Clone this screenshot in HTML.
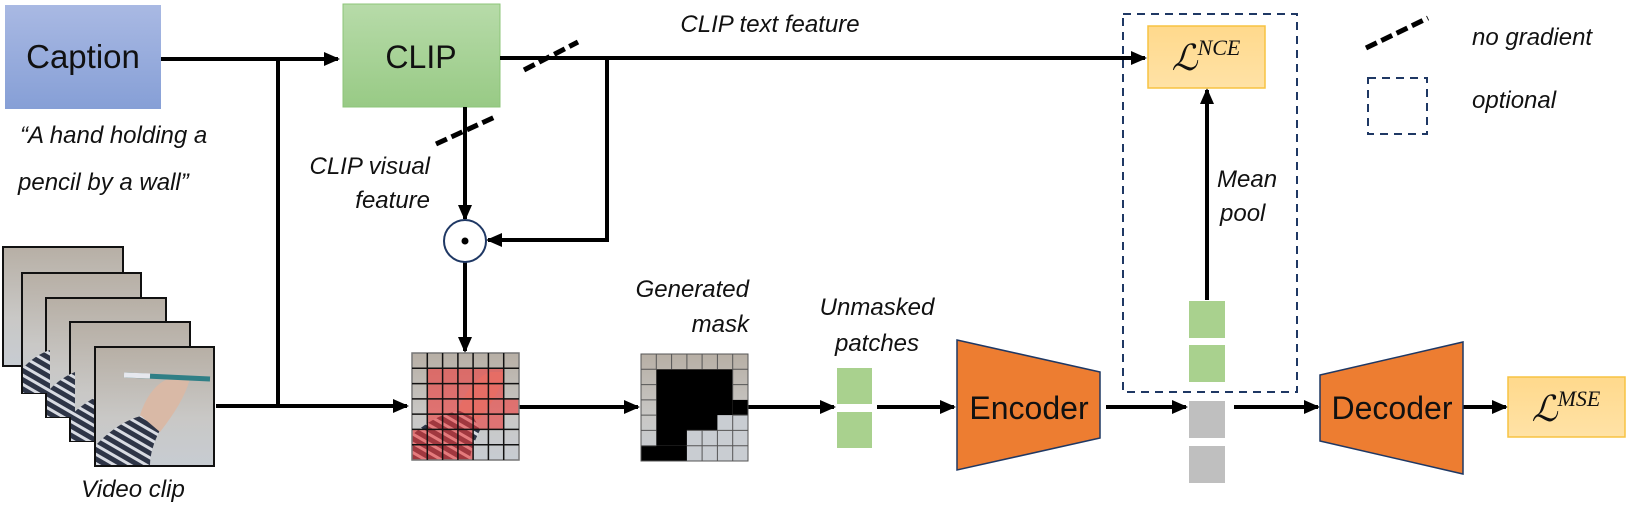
<!DOCTYPE html>
<html><head><meta charset="utf-8"><style>
html,body{margin:0;padding:0;background:#fff;}
svg{display:block;}
text{font-family:"Liberation Sans",sans-serif;}
.it{font-style:italic;fill:#111;}
</style></head><body>
<svg width="1627" height="527" viewBox="0 0 1627 527" xmlns="http://www.w3.org/2000/svg">
<defs>
<linearGradient id="gCap" x1="0" y1="0" x2="0" y2="1"><stop offset="0" stop-color="#a9b9e3"/><stop offset="1" stop-color="#869fd6"/></linearGradient>
<linearGradient id="gClip" x1="0" y1="0" x2="0" y2="1"><stop offset="0" stop-color="#b7dba9"/><stop offset="1" stop-color="#98ca85"/></linearGradient>
<linearGradient id="gLoss" x1="0" y1="0" x2="0" y2="1"><stop offset="0" stop-color="#ffd98c"/><stop offset="1" stop-color="#ffe2a6"/></linearGradient>
<linearGradient id="gFr" x1="0" y1="0" x2="0" y2="1"><stop offset="0" stop-color="#b7afa5"/><stop offset="0.6" stop-color="#c9c8c6"/><stop offset="1" stop-color="#c7ccd2"/></linearGradient>
<marker id="ahb" markerWidth="16" markerHeight="14" refX="14" refY="7" orient="auto" markerUnits="userSpaceOnUse"><path d="M0,0 L16,7 L0,14 z" fill="#000"/></marker>
<pattern id="stripe" width="8" height="8" patternUnits="userSpaceOnUse" patternTransform="rotate(30)"><rect width="8" height="8" fill="#2e3547"/><rect width="8" height="3" fill="#d8dbe2"/></pattern>
</defs>

<!-- Caption -->
<rect x="5" y="5" width="156" height="104" fill="url(#gCap)"/>
<text x="83" y="68" font-size="33" text-anchor="middle" fill="#111">Caption</text>
<text class="it" x="20" y="143" font-size="24">“A hand holding a</text>
<text class="it" x="18" y="190" font-size="24">pencil by a wall”</text>

<!-- CLIP -->
<rect x="343" y="4" width="157" height="103" fill="url(#gClip)" stroke="#8cc478" stroke-width="1"/>
<text x="421" y="68" font-size="32" text-anchor="middle" fill="#111">CLIP</text>

<g stroke="#000" stroke-width="4" fill="none">
<line x1="161" y1="59" x2="338" y2="59" marker-end="url(#ahb)"/>
<polyline points="278,59 278,406"/>
<polyline points="216,406 407,406" marker-end="url(#ahb)"/>
<line x1="500" y1="58" x2="1145" y2="58" marker-end="url(#ahb)"/>
<polyline points="607,58 607,240 488,240" marker-end="url(#ahb)"/>
<line x1="465" y1="107" x2="465" y2="219" marker-end="url(#ahb)"/>
<line x1="465" y1="262" x2="465" y2="351" marker-end="url(#ahb)"/>
<line x1="519" y1="407" x2="638" y2="407" marker-end="url(#ahb)"/>
<line x1="748" y1="407" x2="834" y2="407" marker-end="url(#ahb)"/>
<line x1="877" y1="407" x2="954" y2="407" marker-end="url(#ahb)"/>
<line x1="1106" y1="407" x2="1186" y2="407" marker-end="url(#ahb)"/>
<line x1="1234" y1="407" x2="1318" y2="407" marker-end="url(#ahb)"/>
<line x1="1463" y1="407" x2="1506" y2="407" marker-end="url(#ahb)"/>
<line x1="1207" y1="300" x2="1207" y2="90" marker-end="url(#ahb)"/>
</g>
<!-- no-grad slashes -->
<g stroke="#000" stroke-width="5" stroke-dasharray="12,5" fill="none">
<line x1="436" y1="144" x2="497" y2="116"/>
<line x1="524" y1="70" x2="578" y2="42"/>
<line x1="1366" y1="48" x2="1428" y2="18"/>
</g>
<circle cx="465" cy="241" r="21" fill="#fff" stroke="#1f3864" stroke-width="2"/>
<circle cx="465" cy="241" r="3.5" fill="#000"/>
<text class="it" x="430" y="174" text-anchor="end" font-size="24">CLIP visual</text>
<text class="it" x="430" y="208" text-anchor="end" font-size="24">feature</text>
<text class="it" x="770" y="32" text-anchor="middle" font-size="24">CLIP text feature</text>

<!-- Video frames -->
<g stroke="#111" stroke-width="2">
<rect x="3" y="247" width="120" height="119" fill="url(#gFr)"/>
<rect x="22" y="273" width="119" height="120" fill="url(#gFr)"/>
<rect x="46" y="298" width="120" height="119" fill="url(#gFr)"/>
<rect x="70" y="322" width="120" height="119" fill="url(#gFr)"/>
</g>
<path d="M23 393 L23 368 Q35 355 50 350 L50 393Z" fill="url(#stripe)"/>
<path d="M47 417 L47 392 Q60 378 75 372 L75 417Z" fill="url(#stripe)"/>
<path d="M71 441 L71 415 Q85 402 98 396 L98 441Z" fill="url(#stripe)"/>
<rect x="95" y="347" width="119" height="119" fill="url(#gFr)" stroke="#111" stroke-width="2"/>
<path d="M96 465 L96 445 Q120 420 145 415 L160 430 Q150 450 150 465Z" fill="url(#stripe)"/>
<path d="M140 415 Q150 385 170 378 L190 378 Q185 400 160 432Z" fill="#d9b9a6"/>
<line x1="124" y1="375" x2="210" y2="379" stroke="#2f7f86" stroke-width="5"/>
<line x1="124" y1="375" x2="150" y2="376" stroke="#e6e8ee" stroke-width="5"/>
<text class="it" x="133" y="497" text-anchor="middle" font-size="24">Video clip</text>

<!-- Grid with red overlay -->
<rect x="412" y="353" width="107" height="107" fill="url(#gFr)"/>
<path d="M412 460 L412 435 Q440 410 470 410 L480 430 Q470 450 470 460Z" fill="url(#stripe)"/>
<path d="M458 410 Q470 380 490 372 L505 372 Q500 395 478 420Z" fill="#d9b9a6"/>
<g fill="#ee3b3b" fill-opacity="0.6">
<rect x="427.3" y="368.3" width="76.4" height="45.9"/>
<rect x="503.7" y="398.9" width="15.3" height="15.3"/>
<rect x="427.3" y="414.1" width="76.4" height="15.3"/>
<rect x="412" y="429.4" width="61.1" height="30.6"/>
</g>
<g stroke="#111" stroke-width="1.5" fill="none">
<rect x="412" y="353" width="107" height="107" stroke="#777"/>
<path d="M427.3 353V460M442.6 353V460M457.9 353V460M473.1 353V460M488.4 353V460M503.7 353V460M412 368.3H519M412 383.6H519M412 398.9H519M412 414.1H519M412 429.4H519M412 444.7H519"/>
</g>

<!-- Mask grid -->
<rect x="641" y="354" width="107" height="107" fill="url(#gFr)"/>
<g fill="#000">
<rect x="656.3" y="369.3" width="76.4" height="76.4"/>
<rect x="732.7" y="399.9" width="15.3" height="15.3"/>
<rect x="641" y="445.7" width="61.1" height="15.3"/>
</g>
<rect x="686.9" y="430.4" width="61.1" height="30.6" fill="#c9cdd2"/>
<rect x="717.4" y="415.1" width="30.6" height="15.3" fill="#c9cdd2"/>
<g stroke="#555" stroke-width="1" fill="none">
<rect x="641" y="354" width="107" height="107"/>
<path d="M656.3 354V369.3M671.6 354V369.3M686.9 354V369.3M702.1 354V369.3M717.4 354V369.3M732.7 354V399.9M732.7 415.1V461M641 369.3H656.3M641 384.6H656.3M641 399.9H656.3M641 415.1H656.3M641 430.4H656.3M641 445.7H656.3M732.7 369.3H748M732.7 384.6H748M702.1 430.4V461M717.4 430.4V461M686.9 445.7H748M686.9 430.4H748M732.7 415.1H748"/>
</g>
<text class="it" x="749" y="297" text-anchor="end" font-size="24">Generated</text>
<text class="it" x="749" y="332" text-anchor="end" font-size="24">mask</text>

<text class="it" x="877" y="315" text-anchor="middle" font-size="24">Unmasked</text>
<text class="it" x="877" y="351" text-anchor="middle" font-size="24">patches</text>
<rect x="837" y="368" width="35" height="36" fill="#a9d18e"/>
<rect x="837" y="412" width="35" height="36" fill="#a9d18e"/>

<!-- Encoder -->
<polygon points="957,340 1100,372 1100,438 957,470" fill="#ed7d31" stroke="#1f3864" stroke-width="1.5"/>
<text x="1029" y="419" font-size="32" text-anchor="middle" fill="#111">Encoder</text>

<!-- optional dashed -->
<rect x="1123" y="14" width="174" height="378" fill="none" stroke="#1f3864" stroke-width="2" stroke-dasharray="8,6"/>
<rect x="1148" y="26" width="117" height="62" fill="url(#gLoss)" stroke="#f7c342" stroke-width="1.5"/>
<text x="1206" y="70" font-size="36" text-anchor="middle" font-style="italic" fill="#111" style="font-family:'Liberation Serif',serif">ℒ<tspan font-size="22" dy="-15">NCE</tspan></text>
<text class="it" x="1217" y="187" font-size="24">Mean</text>
<text class="it" x="1220" y="221" font-size="24">pool</text>
<rect x="1189" y="301" width="36" height="37" fill="#a9d18e"/>
<rect x="1189" y="345" width="36" height="37" fill="#a9d18e"/>
<rect x="1189" y="401" width="36" height="37" fill="#bfbfbf"/>
<rect x="1189" y="446" width="36" height="37" fill="#bfbfbf"/>

<!-- Decoder -->
<polygon points="1320,375 1463,342 1463,474 1320,441" fill="#ed7d31" stroke="#1f3864" stroke-width="1.5"/>
<text x="1392" y="419" font-size="32" text-anchor="middle" fill="#111">Decoder</text>
<rect x="1508" y="377" width="117" height="60" fill="url(#gLoss)" stroke="#f7c342" stroke-width="1.5"/>
<text x="1566" y="421" font-size="36" text-anchor="middle" fill="#111" font-style="italic" style="font-family:'Liberation Serif',serif">ℒ<tspan font-size="22" dy="-15">MSE</tspan></text>

<!-- legend -->
<text class="it" x="1472" y="45" font-size="24">no gradient</text>
<rect x="1368" y="78" width="59" height="56" fill="none" stroke="#1f3864" stroke-width="2" stroke-dasharray="8,6"/>
<text class="it" x="1472" y="108" font-size="24">optional</text>
</svg>
</body></html>
